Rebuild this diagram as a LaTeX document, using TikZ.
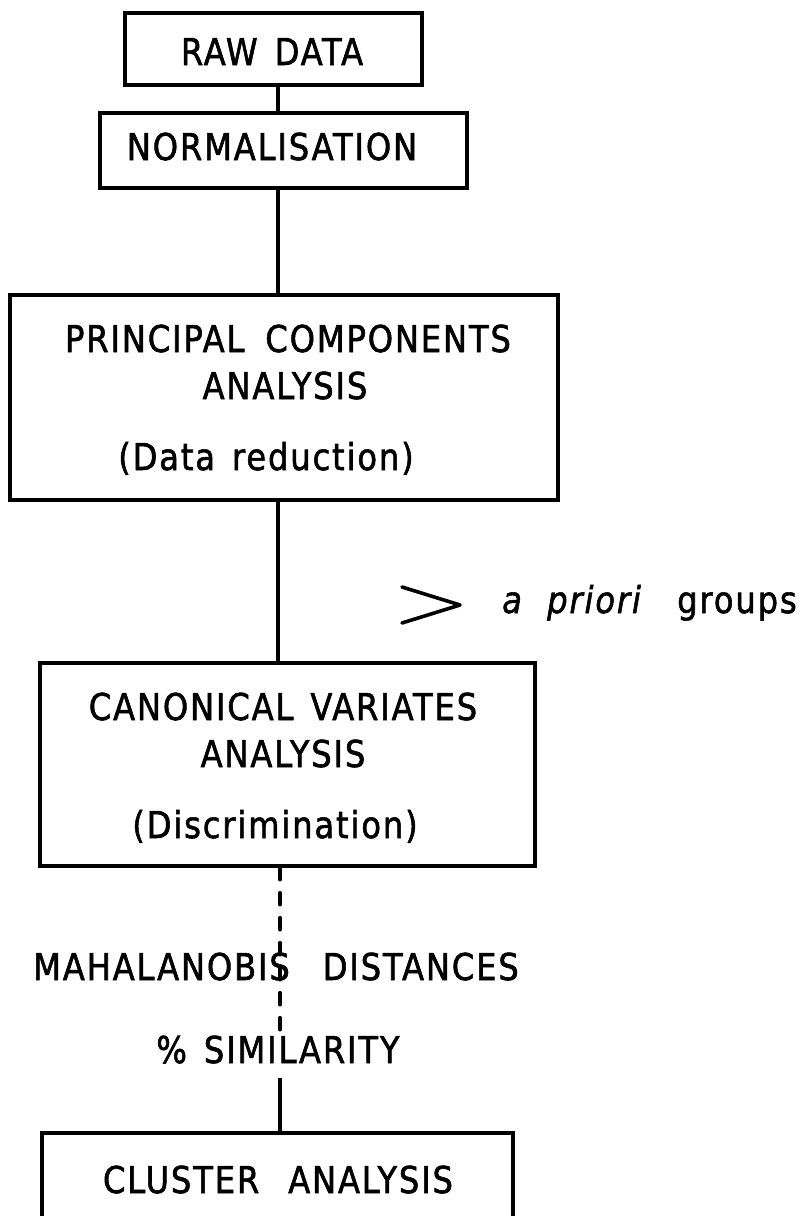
\documentclass[tikz,border=0pt]{standalone}
\usepackage{fontspec}
\setmainfont{DejaVu Sans}[FakeStretch=0.87, WordSpace=1.4, LetterSpace=5, FakeBold=1.5]
\newcommand\lettering{\fontsize{37pt}{44pt}\selectfont}
\begin{document}
\begin{tikzpicture}[x=1pt, y=-1pt,
  box/.style={draw, line width=3.4pt, inner sep=0pt, rectangle},
  lbl/.style={inner sep=0pt, anchor=base, font=\lettering},
  conn/.style={line width=3.6pt},
  dconn/.style={line width=3.6pt, line cap=round, dash pattern=on 12pt off 13pt}]
\useasboundingbox (0,0) rectangle (805,1216);

% process boxes
\node[box, minimum width=297pt, minimum height=72pt] (raw) at (273.5,49) {};
\node[box, minimum width=367pt, minimum height=75pt] (norm) at (283.5,150.5) {};
\node[box, minimum width=548pt, minimum height=205pt] (pca) at (284,397.5) {};
\node[box, minimum width=495pt, minimum height=203pt] (cva) at (287.5,764.5) {};
\begin{scope}
  \clip (0,0) rectangle (805,1216);
  \node[box, minimum width=471pt, minimum height=110pt] (clu) at (277.5,1188) {};
\end{scope}

% box texts
\node[lbl] (rawt) at (272,65) {RAW DATA};
\node[lbl] (normt) at (272,160) {NORMALISATION};
\node[lbl] (pcat1) at (288,352) {PRINCIPAL\hspace{4pt} COMPONENTS};
\node[lbl] (pcat2) at (285,399) {ANALYSIS};
\node[lbl] (pcat3) at (266,470) {(Data reduction)};
\node[lbl] (cvat1) at (283,720) {CANONICAL VARIATES};
\node[lbl] (cvat2) at (283,767) {ANALYSIS};
\node[lbl] (cvat3) at (275,838) {(Discrimination)};
\node[lbl] (clut) at (278,1193) {CLUSTER\hspace{12pt} ANALYSIS};

% side input
\draw[conn, line cap=round, line join=round] (402,587) -- (460,605) -- (402,623);
\node[lbl, anchor=base west] (ga) at (502,613) {\itshape a};
\node[lbl, anchor=base west] (gp) at (547,613) {\itshape priori};
\node[lbl, anchor=base west] (gg) at (677,613) {groups};

% link labels
\node[lbl] (mah) at (276,980) {MAHALANOBIS\hspace{16pt} DISTANCES};
\node[lbl] (sim) at (278,1063) {\% SIMILARITY};

% connectors
\coordinate (ax) at (278,0);
\coordinate (dax) at (280,0);
\coordinate (dend) at (280,1040);
\coordinate (sstart) at (280,1078);
\draw[conn] (raw.south -| ax) -- (norm.north -| ax);
\draw[conn] (norm.south -| ax) -- (pca.north -| ax);
\draw[conn] (pca.south -| ax) -- (cva.north -| ax);
\draw[dconn] (cva.south -| dax) -- (dend);
\draw[conn] (sstart) -- (clu.north -| sstart);
\end{tikzpicture}
\end{document}
